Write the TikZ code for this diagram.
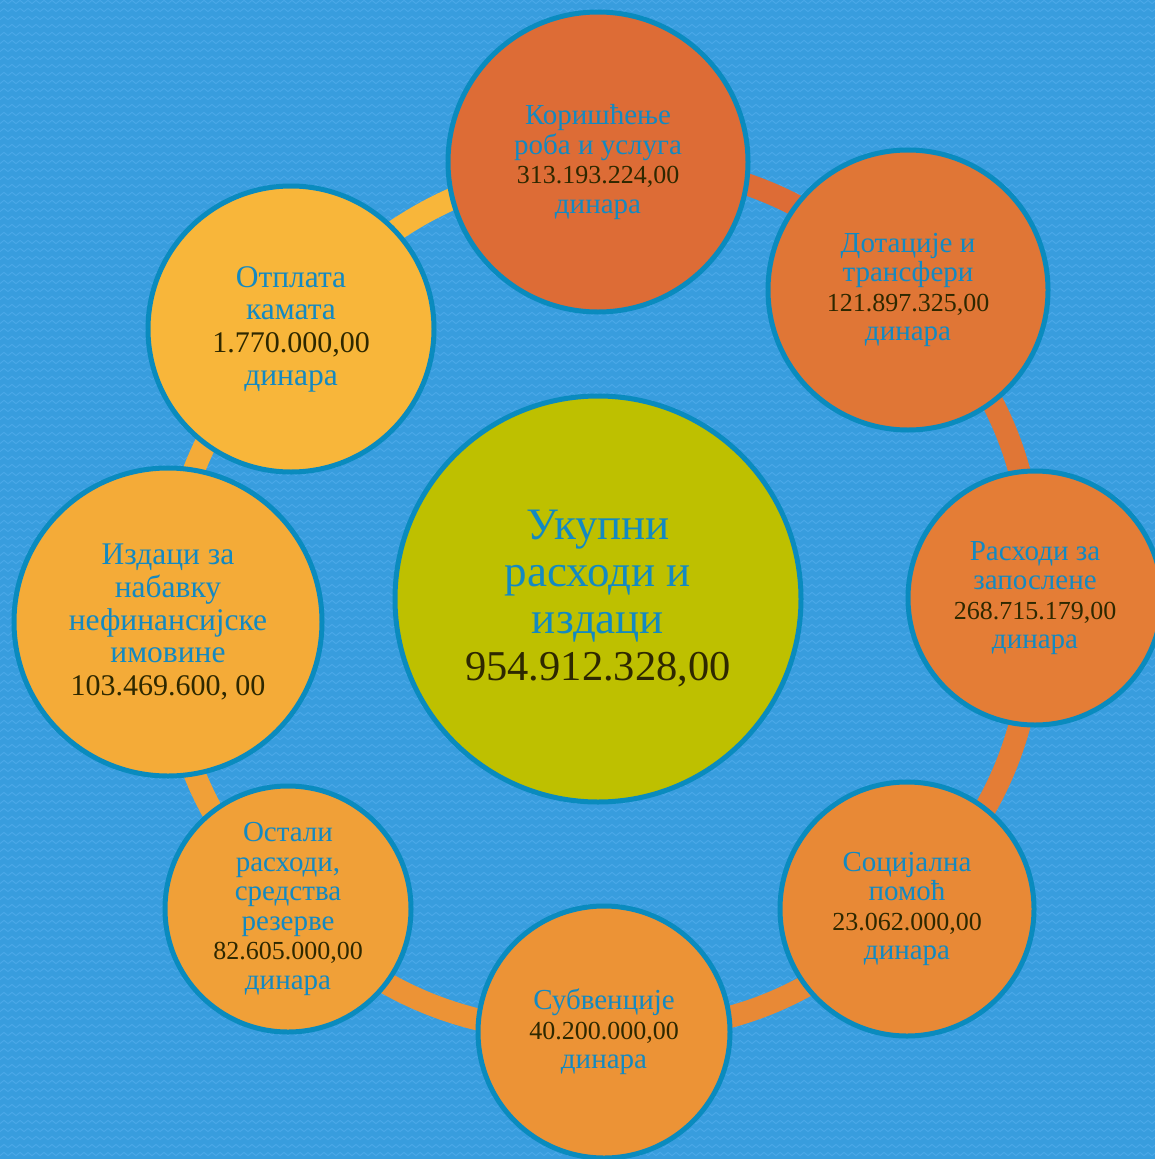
\documentclass[tikz,border=0pt]{standalone}
\usepackage{fontspec}
\setmainfont{Liberation Serif}
\usetikzlibrary{decorations.pathmorphing}
\definecolor{bgblue}{HTML}{389DDE}
\definecolor{bgline}{HTML}{4AA8E8}
\definecolor{rim}{HTML}{0A8BBE}
\definecolor{lbl}{HTML}{1389C2}
\definecolor{num}{HTML}{2E2800}
\definecolor{cA}{HTML}{DD6C36}
\definecolor{cB}{HTML}{E07636}
\definecolor{cC}{HTML}{E47D36}
\definecolor{cD}{HTML}{E88936}
\definecolor{cE}{HTML}{EC9336}
\definecolor{cF}{HTML}{F0A038}
\definecolor{cG}{HTML}{F4AB38}
\definecolor{cH}{HTML}{F8B63A}
\definecolor{cCenter}{HTML}{BEC000}
\pgfdeclarelayer{back}
\pgfdeclarelayer{ringlayer}
\pgfsetlayers{back,ringlayer,main}
\tikzset{
  zz/.style={decorate, decoration={zigzag, segment length=8pt, amplitude=1.6pt}, draw=bgline, line width=1pt},
  bubble/.style={circle, draw=rim, line width=5pt, inner sep=0pt, align=center, text=lbl,
     font=\fontsize{29}{29.5}\selectfont},
  bigbubble/.style={bubble, font=\fontsize{31.5}{32.7}\selectfont},
  ringseg/.style={line width=22pt},
}
\newcommand{\nm}[2][26]{{\color{num}\fontsize{#1}{#1}\selectfont #2}}
\begin{document}
\begin{tikzpicture}[x=1pt,y=-1pt]
\useasboundingbox (0,0) rectangle (1155,1159);
\clip (0,0) rectangle (1155,1159);
\begin{pgfonlayer}{back}
\fill[bgblue] (0,0) rectangle (1155,1159);
\foreach \yy in {2,10,...,1162} \draw[zz] (-6,\yy) -- (1162,\yy);
\end{pgfonlayer}

\node[bubble, fill=cCenter, minimum size=406pt, font=\fontsize{45}{47}\selectfont] (ctr) at (598,599)
  {Укупни\\расходи и\\издаци\\\nm[42.5]{954.912.328,00}};

\node[bubble, fill=cA, minimum size=300pt] (n1) at (598,162)
  {Коришћење\\роба и услуга\\\nm{313.193.224,00}\\динара};
\node[bubble, fill=cB, minimum size=280pt] (n2) at (908,290)
  {Дотације и\\трансфери\\\nm{121.897.325,00}\\динара};
\node[bubble, fill=cC, minimum size=254pt] (n3) at (1035,598)
  {Расходи за\\запослене\\\nm{268.715.179,00}\\динара};
\node[bubble, fill=cD, minimum size=254pt] (n4) at (907,909)
  {Социјална\\помоћ\\\nm{23.062.000,00}\\динара};
\node[bubble, fill=cE, minimum size=252pt] (n5) at (604,1032)
  {Субвенције\\\nm{40.200.000,00}\\динара};
\node[bubble, fill=cF, minimum size=246pt] (n6) at (288,909)
  {Остали\\расходи,\\средства\\резерве\\\nm{82.605.000,00}\\динара};
\node[bigbubble, fill=cG, minimum size=308pt] (n7) at (168,622)
  {Издаци за\\набавку\\нефинансијске\\имовине\\\nm[30]{103.469.600, 00}};
\node[bigbubble, fill=cH, minimum size=286pt] (n8) at (291,329)
  {Отплата\\камата\\\nm[30]{1.770.000,00}\\динара};

\begin{pgfonlayer}{ringlayer}
\draw[ringseg, cA] (n1.center) to[bend left=22] (n2.center);
\draw[ringseg, cB] (n2.center) to[bend left=22] (n3.center);
\draw[ringseg, cC] (n3.center) to[bend left=22] (n4.center);
\draw[ringseg, cD] (n4.center) to[bend left=22] (n5.center);
\draw[ringseg, cE] (n5.center) to[bend left=22] (n6.center);
\draw[ringseg, cF] (n6.center) to[bend left=22] (n7.center);
\draw[ringseg, cG] (n7.center) to[bend left=22] (n8.center);
\draw[ringseg, cH] (n8.center) to[bend left=22] (n1.center);
\end{pgfonlayer}
\end{tikzpicture}
\end{document}
